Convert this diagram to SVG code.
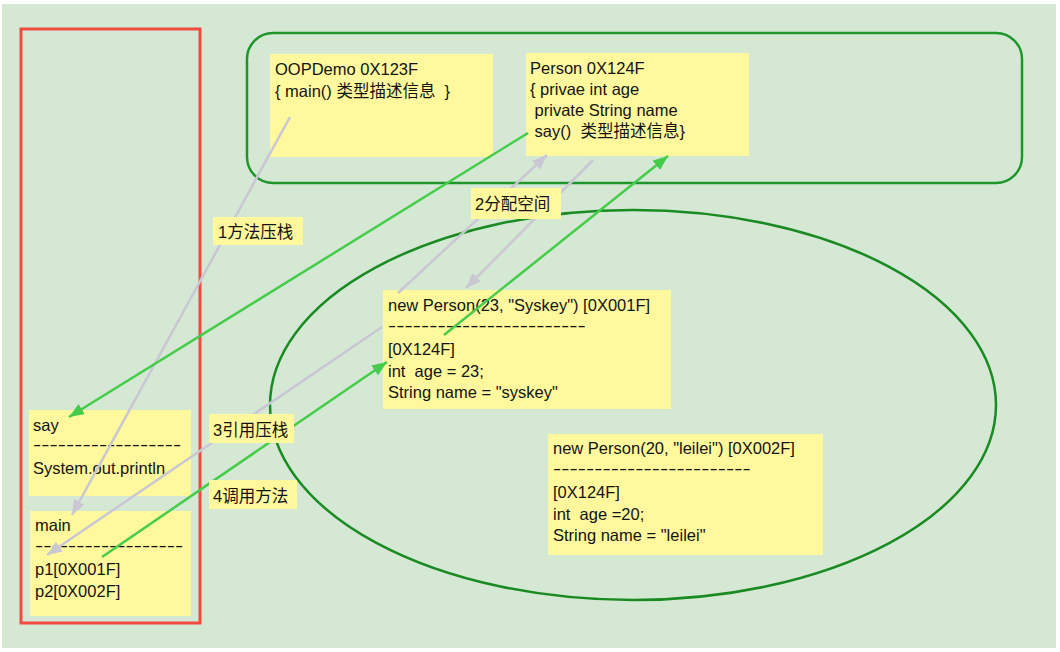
<svg xmlns="http://www.w3.org/2000/svg" width="1060" height="652" viewBox="0 0 1060 652">
<style>
  text { font-family: "Liberation Sans", Arial, "Noto Sans CJK SC", sans-serif; font-size: 16.5px; fill: #141414; }
  .box { fill: #fff89c; }
  .gray { stroke: #c9c7d3; stroke-width: 2.5; fill: none; }
  .green { stroke: #45cc4a; stroke-width: 2.5; fill: none; }
</style>
<defs>
  <marker id="ag" markerUnits="userSpaceOnUse" markerWidth="16" markerHeight="12" refX="15" refY="6" orient="auto">
    <path d="M0,0 L15,6 L0,12 z" fill="#c9c7d3"/>
  </marker>
  <marker id="ae" markerUnits="userSpaceOnUse" markerWidth="16" markerHeight="12" refX="15" refY="6" orient="auto">
    <path d="M0,0 L15,6 L0,12 z" fill="#45cc4a"/>
  </marker>
</defs>
<rect x="0" y="0" width="1060" height="652" fill="#ffffff"/>
<rect x="2" y="4" width="1054" height="644" fill="#d5e8d4"/>

<g id="stack">
  <rect x="21" y="29" width="179" height="594" fill="none" stroke="#ef4b3f" stroke-width="3"/>
</g>
<g id="method-area">
  <rect x="247" y="33" width="775" height="150" rx="26" ry="26" fill="none" stroke="#1f962c" stroke-width="2.5"/>
</g>
<g id="heap">
  <ellipse cx="633" cy="405" rx="363" ry="195" fill="none" stroke="#1a8a22" stroke-width="2.5"/>
</g>

<g id="oopdemo">
  <rect class="box" x="270" y="54" width="223" height="103"/>
  <text x="275" y="75">OOPDemo 0X123F</text>
  <text x="275" y="97" xml:space="preserve">{ main() 类型描述信息  }</text>
</g>
<g id="person">
  <rect class="box" x="526" y="53" width="223" height="103"/>
  <text x="530" y="74">Person 0X124F</text>
  <text x="530" y="95">{ privae int age</text>
  <text x="530" y="116" xml:space="preserve"> private String name</text>
  <text x="530" y="137" xml:space="preserve"> say()  类型描述信息}</text>
</g>
<g id="say">
  <rect class="box" x="29" y="410" width="162" height="86"/>
  <text x="33" y="431">say</text>
  <text transform="translate(33,450) scale(1.5,1)" x="0" y="0">------------------</text>
  <text x="33" y="474">System.out.println</text>
</g>
<g id="main">
  <rect class="box" x="30" y="511" width="161" height="105"/>
  <text x="35" y="531">main</text>
  <text transform="translate(35,550.5) scale(1.5,1)" x="0" y="0">------------------</text>
  <text x="35" y="575">p1[0X001F]</text>
  <text x="35" y="597">p2[0X002F]</text>
</g>
<g id="obj1">
  <rect class="box" x="383" y="290" width="288" height="119"/>
  <text x="388" y="311">new Person(23, "Syskey") [0X001F]</text>
  <text transform="translate(388,330.5) scale(1.5,1)" x="0" y="0">------------------------</text>
  <text x="388" y="355">[0X124F]</text>
  <text x="388" y="377" xml:space="preserve">int  age = 23;</text>
  <text x="388" y="398">String name = "syskey"</text>
</g>
<g id="obj2">
  <rect class="box" x="548" y="434" width="275" height="121"/>
  <text x="553" y="454">new Person(20, "leilei") [0X002F]</text>
  <text transform="translate(553,473.5) scale(1.5,1)" x="0" y="0">------------------------</text>
  <text x="553" y="498">[0X124F]</text>
  <text x="553" y="520" xml:space="preserve">int  age =20;</text>
  <text x="553" y="541">String name = "leilei"</text>
</g>

<g id="connectors">
  <line class="gray" x1="290" y1="117" x2="72" y2="515" marker-end="url(#ag)"/>
  <line class="green" x1="528" y1="133" x2="69" y2="417" marker-end="url(#ae)"/>
  <line class="gray" x1="398" y1="293" x2="547" y2="155" marker-end="url(#ag)"/>
  <line class="gray" x1="593" y1="160" x2="466" y2="288" marker-end="url(#ag)"/>
  <line class="green" x1="444" y1="335" x2="668" y2="156" marker-end="url(#ae)"/>
  <line class="gray" x1="382" y1="327" x2="47" y2="555" marker-end="url(#ag)"/>
  <line class="green" x1="102" y1="557" x2="387" y2="362" marker-end="url(#ae)"/>
</g>

<g id="labels">
  <g id="label1">
    <rect class="box" x="213" y="217" width="90" height="28"/>
    <text x="218" y="238">1方法压栈</text>
  </g>
  <g id="label2">
    <rect class="box" x="471" y="188" width="90" height="31"/>
    <text x="475" y="210">2分配空间</text>
  </g>
  <g id="label3">
    <rect class="box" x="209" y="414" width="85" height="29"/>
    <text x="213" y="436">3引用压栈</text>
  </g>
  <g id="label4">
    <rect class="box" x="209" y="480" width="88" height="29"/>
    <text x="213" y="502">4调用方法</text>
  </g>
</g>
</svg>
